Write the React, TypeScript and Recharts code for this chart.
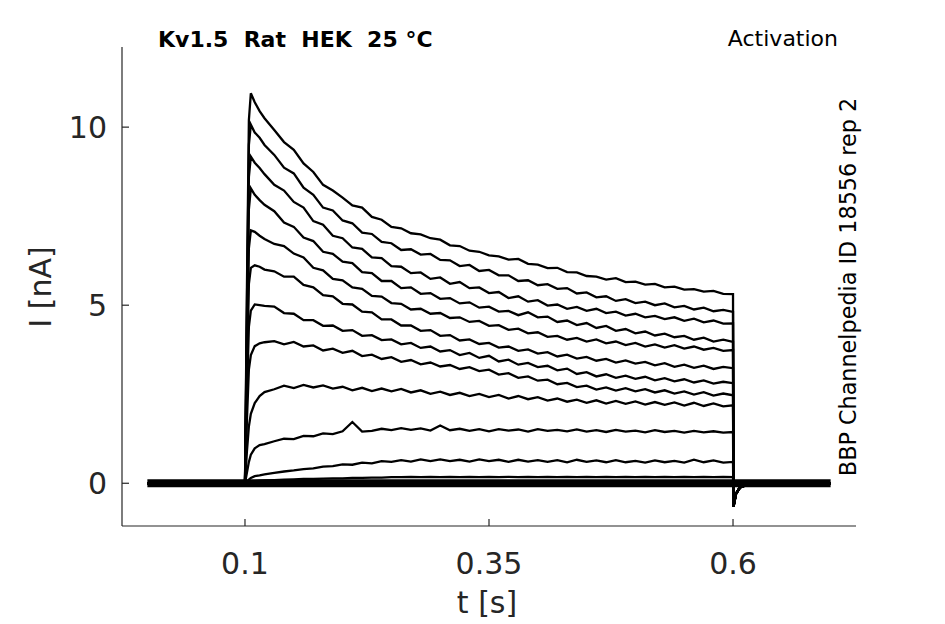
import { LineChart, Line, XAxis, YAxis } from 'recharts';

// time grid [s]
const preTimes = [0, 0.05, 0.0995];
const pulseTimes = [
  0.1, 0.102, 0.104, 0.106, 0.11, 0.115, 0.12,
  0.13, 0.14, 0.15, 0.16, 0.17, 0.18, 0.19, 0.2, 0.21, 0.22, 0.23, 0.24, 0.25, 0.26, 0.27, 0.28,
  0.29, 0.3, 0.31, 0.32, 0.33, 0.34, 0.35, 0.36, 0.37, 0.38, 0.39, 0.4, 0.41, 0.42, 0.43, 0.44,
  0.45, 0.46, 0.47, 0.48, 0.49, 0.5, 0.51, 0.52, 0.53, 0.54, 0.55, 0.56, 0.57, 0.58, 0.59, 0.6,
];
const postTimes = [0.6005, 0.603, 0.607, 0.615, 0.63, 0.7];
const tailValues = [-0.65, -0.3, -0.12, -0.04, 0, 0];

// current during the pulse [nA], one array per sweep
const sweep1 = [0, 5.5, 10.2, 10.95, 10.7, 10.45, 10.25,
  9.92, 9.58, 9.36, 8.98, 8.74, 8.38, 8.22, 8.02, 7.8, 7.74, 7.48, 7.4, 7.2, 7.16, 7.02, 6.99,
  6.88, 6.84, 6.68, 6.66, 6.53, 6.5, 6.4, 6.37, 6.28, 6.3, 6.16, 6.14, 6.04, 6.05, 5.93, 5.92,
  5.82, 5.8, 5.72, 5.76, 5.65, 5.66, 5.58, 5.6, 5.5, 5.52, 5.44, 5.45, 5.38, 5.4, 5.32, 5.31];
const sweep2 = [0, 5.0, 9.5, 10.07, 9.85, 9.7, 9.5,
  9.22, 8.86, 8.7, 8.3, 8.1, 7.74, 7.66, 7.38, 7.3, 7.04, 7.0, 6.78, 6.74, 6.55, 6.57, 6.42,
  6.44, 6.27, 6.26, 6.1, 6.13, 5.96, 5.99, 5.84, 5.84, 5.68, 5.7, 5.56, 5.59, 5.46, 5.48, 5.33,
  5.36, 5.22, 5.25, 5.12, 5.17, 5.06, 5.1, 5.0, 5.05, 4.94, 4.98, 4.88, 4.93, 4.83, 4.87, 4.81];
const sweep3 = [0, 4.5, 8.6, 9.17, 9.0, 8.85, 8.68,
  8.38, 8.22, 7.9, 7.74, 7.36, 7.26, 6.95, 6.88, 6.62, 6.58, 6.34, 6.32, 6.1, 6.08, 5.9, 5.92,
  5.74, 5.78, 5.6, 5.65, 5.48, 5.5, 5.34, 5.37, 5.2, 5.25, 5.1, 5.14, 4.99, 5.02, 4.9, 4.95,
  4.84, 4.9, 4.78, 4.82, 4.71, 4.76, 4.66, 4.7, 4.61, 4.66, 4.56, 4.62, 4.52, 4.57, 4.48, 4.49];
const sweep4 = [0, 4.0, 7.7, 8.28, 8.1, 7.95, 7.82,
  7.64, 7.32, 7.2, 6.9, 6.8, 6.5, 6.44, 6.22, 6.18, 5.93, 5.9, 5.68, 5.68, 5.48, 5.5, 5.32,
  5.34, 5.18, 5.2, 5.05, 5.08, 4.93, 4.96, 4.82, 4.84, 4.72, 4.8, 4.66, 4.68, 4.53, 4.57, 4.44,
  4.5, 4.36, 4.42, 4.28, 4.33, 4.21, 4.26, 4.15, 4.2, 4.1, 4.14, 4.03, 4.09, 3.98, 4.03, 3.97];
const sweep5 = [0, 3.5, 6.6, 7.1, 7.06, 6.95, 6.86,
  6.72, 6.66, 6.45, 6.34, 6.05, 5.98, 5.74, 5.7, 5.5, 5.46, 5.26, 5.24, 5.06, 5.04, 4.88, 4.9,
  4.76, 4.78, 4.64, 4.66, 4.53, 4.56, 4.42, 4.44, 4.31, 4.34, 4.21, 4.24, 4.11, 4.14, 4.03, 4.08,
  3.98, 4.04, 3.93, 3.98, 3.88, 3.94, 3.84, 3.9, 3.81, 3.88, 3.78, 3.84, 3.75, 3.8, 3.72, 3.74];
const sweep6 = [0, 3.0, 5.6, 6.05, 6.12, 6.08, 6.0,
  5.95, 5.8, 5.8, 5.57, 5.5, 5.28, 5.25, 5.04, 5.02, 4.82, 4.8, 4.6, 4.6, 4.43, 4.43, 4.28,
  4.3, 4.14, 4.16, 4.01, 4.04, 3.91, 3.94, 3.81, 3.84, 3.72, 3.76, 3.64, 3.68, 3.56, 3.61, 3.5,
  3.55, 3.44, 3.49, 3.39, 3.45, 3.36, 3.41, 3.31, 3.37, 3.27, 3.33, 3.24, 3.3, 3.21, 3.27, 3.23];
const sweep7 = [0, 2.5, 4.4, 4.85, 5.02, 5.0, 4.98,
  4.96, 4.78, 4.76, 4.58, 4.58, 4.42, 4.43, 4.28, 4.3, 4.14, 4.16, 4.02, 4.04, 3.9, 3.94, 3.8,
  3.84, 3.7, 3.74, 3.6, 3.66, 3.52, 3.58, 3.42, 3.47, 3.33, 3.38, 3.26, 3.3, 3.17, 3.22, 3.07,
  3.12, 3.0, 3.06, 2.96, 3.02, 2.93, 2.99, 2.89, 2.95, 2.86, 2.92, 2.83, 2.89, 2.8, 2.85, 2.81];
const sweep8 = [0, 1.8, 3.2, 3.6, 3.85, 3.93, 3.96,
  3.99, 3.9, 3.97, 3.84, 3.87, 3.73, 3.78, 3.66, 3.72, 3.57, 3.61, 3.49, 3.54, 3.41, 3.46, 3.34,
  3.39, 3.28, 3.32, 3.21, 3.26, 3.15, 3.19, 3.05, 3.09, 2.96, 3.0, 2.88, 2.91, 2.78, 2.82, 2.7,
  2.74, 2.63, 2.69, 2.6, 2.67, 2.58, 2.64, 2.55, 2.61, 2.52, 2.58, 2.49, 2.56, 2.46, 2.52, 2.47];
const sweep9 = [0, 0.9, 1.6, 1.95, 2.25, 2.45, 2.56,
  2.64, 2.74, 2.67, 2.76, 2.69, 2.75, 2.66, 2.71, 2.61, 2.68, 2.59, 2.66, 2.58, 2.65, 2.55, 2.61,
  2.51, 2.57, 2.48, 2.54, 2.45, 2.51, 2.42, 2.48, 2.38, 2.45, 2.36, 2.42, 2.32, 2.38, 2.29, 2.35,
  2.26, 2.33, 2.24, 2.31, 2.23, 2.3, 2.21, 2.28, 2.2, 2.27, 2.18, 2.26, 2.17, 2.24, 2.16, 2.19];
const sweep10 = [0, 0.3, 0.6, 0.8, 0.98, 1.07, 1.1,
  1.18, 1.25, 1.24, 1.33, 1.32, 1.4, 1.38, 1.46, 1.72, 1.45, 1.47, 1.53, 1.49, 1.55, 1.5, 1.54,
  1.48, 1.62, 1.49, 1.53, 1.47, 1.52, 1.46, 1.52, 1.48, 1.51, 1.45, 1.52, 1.47, 1.5, 1.46, 1.51,
  1.45, 1.49, 1.44, 1.5, 1.45, 1.48, 1.43, 1.49, 1.44, 1.47, 1.42, 1.47, 1.43, 1.46, 1.42, 1.44];
const sweep11 = [0, 0.05, 0.1, 0.15, 0.2, 0.22, 0.25,
  0.29, 0.33, 0.36, 0.4, 0.42, 0.47, 0.48, 0.53, 0.52, 0.58, 0.56, 0.62, 0.6, 0.65, 0.61, 0.67,
  0.62, 0.67, 0.62, 0.66, 0.61, 0.67, 0.62, 0.66, 0.6, 0.66, 0.61, 0.65, 0.6, 0.65, 0.59, 0.66,
  0.6, 0.64, 0.59, 0.65, 0.59, 0.63, 0.58, 0.64, 0.59, 0.63, 0.58, 0.66, 0.59, 0.64, 0.58, 0.6];
const sweep12 = [0, 0.02, 0.04, 0.05, 0.06, 0.07, 0.08,
  0.09, 0.1, 0.11, 0.12, 0.12, 0.13, 0.14, 0.14, 0.15, 0.15, 0.16, 0.16, 0.17, 0.17, 0.18, 0.17,
  0.18, 0.17, 0.18, 0.17, 0.18, 0.17, 0.18, 0.17, 0.18, 0.17, 0.18, 0.17, 0.18, 0.17, 0.18, 0.17,
  0.18, 0.17, 0.18, 0.17, 0.18, 0.17, 0.18, 0.17, 0.18, 0.17, 0.18, 0.17, 0.18, 0.17, 0.18, 0.17];

const sweeps = [sweep1, sweep2, sweep3, sweep4, sweep5, sweep6, sweep7, sweep8, sweep9, sweep10, sweep11, sweep12];

const xTicks = [0.1, 0.35, 0.6];
const yTicks = [0, 5, 10];

const rows = [
  ...preTimes.map((t) => {
    const r: Record<string, number> = { t, base: 0 };
    sweeps.forEach((_, k) => (r['s' + k] = 0));
    return r;
  }),
  ...pulseTimes.map((t, i) => {
    const r: Record<string, number> = { t, base: 0 };
    sweeps.forEach((s, k) => (r['s' + k] = s[i]));
    return r;
  }),
  ...postTimes.map((t, i) => {
    const r: Record<string, number> = { t, base: 0 };
    sweeps.forEach((_, k) => (r['s' + k] = tailValues[i]));
    return r;
  }),
];

const axisColor = '#262626';
const font = '"DejaVu Sans", sans-serif';

function XTick({ x, payload }: any) {
  return (
    <text x={x} y={574} textAnchor="middle" fontSize={30} fill={axisColor} fontFamily={font}>
      {payload.value}
    </text>
  );
}

function YTick({ y, payload }: any) {
  return (
    <text x={107} y={y} dy={11} textAnchor="end" fontSize={30} fill={axisColor} fontFamily={font}>
      {payload.value}
    </text>
  );
}

export default function App() {
  return (
    <div style={{ position: 'absolute', left: 0, top: 0, width: 945, height: 624, background: '#fff' }}>
      <LineChart
        width={945}
        height={624}
        data={rows}
        margin={{ top: 47, right: 89, bottom: 38, left: 62 }}
      >
        <XAxis
          dataKey="t"
          type="number"
          domain={[-0.026, 0.726]}
          ticks={xTicks}
          allowDataOverflow
          height={60}
          tickSize={-7}
          tick={<XTick />}
          axisLine={{ stroke: axisColor, strokeWidth: 1.2 }}
          tickLine={{ stroke: axisColor, strokeWidth: 1.2 }}
        />
        <YAxis
          type="number"
          domain={[-1.2, 12.25]}
          ticks={yTicks}
          allowDataOverflow
          width={60}
          tickSize={-7}
          tick={<YTick />}
          axisLine={{ stroke: axisColor, strokeWidth: 1.2 }}
          tickLine={{ stroke: axisColor, strokeWidth: 1.2 }}
        />
        <Line dataKey="base" stroke="#000" strokeWidth={8} dot={false} isAnimationActive={false} />
        {sweeps.map((_, k) => (
          <Line
            key={k}
            dataKey={'s' + k}
            stroke="#000"
            strokeWidth={2.3}
            dot={false}
            isAnimationActive={false}
          />
        ))}
        <text x={158} y={47} fontSize={22} fontWeight="bold" fontFamily={font} fill="#000" style={{ whiteSpace: 'pre' }}>
          {'Kv1.5  Rat  HEK  25 °C'}
        </text>
        <text x={838} y={46} fontSize={22} textAnchor="end" fontFamily={font} fill="#000">
          Activation
        </text>
        <text
          x={856}
          y={287}
          fontSize={22.3}
          textAnchor="middle"
          fontFamily={font}
          fill="#000"
          transform="rotate(-90 856 287)"
        >
          BBP Channelpedia ID 18556 rep 2
        </text>
        <text
          x={51}
          y={287}
          fontSize={30}
          textAnchor="middle"
          fontFamily={font}
          fill={axisColor}
          transform="rotate(-90 51 287)"
        >
          I [nA]
        </text>
        <text x={487} y={613} fontSize={30} textAnchor="middle" fontFamily={font} fill={axisColor}>
          t [s]
        </text>
      </LineChart>
    </div>
  );
}
